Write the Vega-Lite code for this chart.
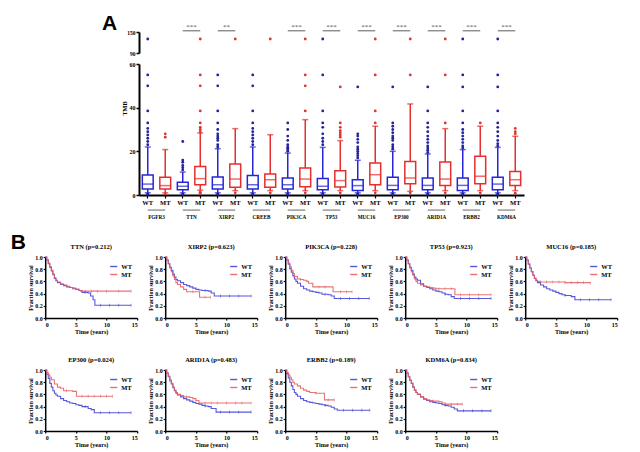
{
  "$schema": "https://vega.github.io/schema/vega-lite/v6.json",
  "background": "white",
  "padding": {"left": 10, "top": 12, "right": 5, "bottom": 2},
  "config": {
    "view": {"stroke": null},
    "font": "Liberation Serif",
    "axis": {"domainColor": "#000", "domainWidth": 1.5, "tickColor": "#000", "tickWidth": 1.2, "tickSize": 2, "labelFont": "Liberation Serif", "labelFontWeight": "bold", "labelFontSize": 6, "labelColor": "#000", "labelPadding": 1, "titleFont": "Liberation Serif", "titleFontWeight": "bold", "titleFontSize": 6.2, "titleColor": "#000", "titlePadding": 1, "grid": false},
    "title": {"font": "Liberation Serif", "fontSize": 6.5, "fontWeight": "bold", "color": "#000", "offset": 4},
    "legend": {"orient": "top-right", "offset": 5, "padding": 0, "labelFont": "Liberation Serif", "labelFontWeight": "bold", "labelFontSize": 6.5, "labelColor": "#000", "symbolType": "stroke", "symbolSize": 50, "symbolStrokeWidth": 1.4, "rowPadding": 0, "labelOffset": 3}
  },
  "datasets": {
    "genes": [
      {"gene": "FGFR3", "wt": "FGFR3 WT", "mt": "FGFR3 MT", "stars": ""},
      {"gene": "TTN", "wt": "TTN WT", "mt": "TTN MT", "stars": "***"},
      {"gene": "XIRP2", "wt": "XIRP2 WT", "mt": "XIRP2 MT", "stars": "**"},
      {"gene": "CREEB", "wt": "CREEB WT", "mt": "CREEB MT", "stars": ""},
      {"gene": "PIK3CA", "wt": "PIK3CA WT", "mt": "PIK3CA MT", "stars": "***"},
      {"gene": "TP53", "wt": "TP53 WT", "mt": "TP53 MT", "stars": "***"},
      {"gene": "MUC16", "wt": "MUC16 WT", "mt": "MUC16 MT", "stars": "***"},
      {"gene": "EP300", "wt": "EP300 WT", "mt": "EP300 MT", "stars": "***"},
      {"gene": "ARID1A", "wt": "ARID1A WT", "mt": "ARID1A MT", "stars": "***"},
      {"gene": "ERBB2", "wt": "ERBB2 WT", "mt": "ERBB2 MT", "stars": "***"},
      {"gene": "KDM6A", "wt": "KDM6A WT", "mt": "KDM6A MT", "stars": "***"}
    ],
    "boxes": [
      {"gene": "FGFR3", "grp": "WT", "box": "FGFR3 WT", "lo": 1, "q1": 2.7, "med": 5, "q3": 9.2, "hi": 22},
      {"gene": "FGFR3", "grp": "MT", "box": "FGFR3 MT", "lo": 1, "q1": 2.7, "med": 4.3, "q3": 8.1, "hi": 20.8},
      {"gene": "TTN", "grp": "WT", "box": "TTN WT", "lo": 1, "q1": 2.4, "med": 4, "q3": 5.8, "hi": 10.5},
      {"gene": "TTN", "grp": "MT", "box": "TTN MT", "lo": 2.2, "q1": 4.7, "med": 7.5, "q3": 13.1, "hi": 28.4},
      {"gene": "XIRP2", "grp": "WT", "box": "XIRP2 WT", "lo": 1, "q1": 2.7, "med": 4.7, "q3": 8.2, "hi": 21.2},
      {"gene": "XIRP2", "grp": "MT", "box": "XIRP2 MT", "lo": 2, "q1": 3.5, "med": 7.3, "q3": 14.2, "hi": 30.4},
      {"gene": "CREEB", "grp": "WT", "box": "CREEB WT", "lo": 1, "q1": 2.7, "med": 4.7, "q3": 8.9, "hi": 22},
      {"gene": "CREEB", "grp": "MT", "box": "CREEB MT", "lo": 2, "q1": 3.5, "med": 7, "q3": 9.6, "hi": 27.6},
      {"gene": "PIK3CA", "grp": "WT", "box": "PIK3CA WT", "lo": 1, "q1": 2.7, "med": 4.7, "q3": 7.8, "hi": 19.2},
      {"gene": "PIK3CA", "grp": "MT", "box": "PIK3CA MT", "lo": 2, "q1": 3.8, "med": 7.3, "q3": 12.4, "hi": 34.5},
      {"gene": "TP53", "grp": "WT", "box": "TP53 WT", "lo": 1, "q1": 2.4, "med": 4, "q3": 7.6, "hi": 21.8},
      {"gene": "TP53", "grp": "MT", "box": "TP53 MT", "lo": 2, "q1": 3.7, "med": 6.6, "q3": 11.1, "hi": 24.9},
      {"gene": "MUC16", "grp": "WT", "box": "MUC16 WT", "lo": 1, "q1": 2.1, "med": 4.3, "q3": 7, "hi": 15.9},
      {"gene": "MUC16", "grp": "MT", "box": "MUC16 MT", "lo": 2, "q1": 4.7, "med": 9.3, "q3": 14.7, "hi": 31.5},
      {"gene": "EP300", "grp": "WT", "box": "EP300 WT", "lo": 1, "q1": 2.4, "med": 4.4, "q3": 8.1, "hi": 20},
      {"gene": "EP300", "grp": "MT", "box": "EP300 MT", "lo": 1.7, "q1": 5.2, "med": 7.8, "q3": 15.4, "hi": 41.7},
      {"gene": "ARID1A", "grp": "WT", "box": "ARID1A WT", "lo": 1, "q1": 2.4, "med": 4.4, "q3": 7.8, "hi": 18.8},
      {"gene": "ARID1A", "grp": "MT", "box": "ARID1A MT", "lo": 2, "q1": 4.3, "med": 7.3, "q3": 15.1, "hi": 30.4},
      {"gene": "ERBB2", "grp": "WT", "box": "ERBB2 WT", "lo": 1, "q1": 2.1, "med": 4.4, "q3": 7.8, "hi": 20.8},
      {"gene": "ERBB2", "grp": "MT", "box": "ERBB2 MT", "lo": 2, "q1": 5.2, "med": 8.6, "q3": 17.7, "hi": 31.5},
      {"gene": "KDM6A", "grp": "WT", "box": "KDM6A WT", "lo": 1, "q1": 2.4, "med": 5, "q3": 8.1, "hi": 21.8},
      {"gene": "KDM6A", "grp": "MT", "box": "KDM6A MT", "lo": 2, "q1": 4.3, "med": 7, "q3": 10.8, "hi": 26.9}
    ],
    "outliers": [
      {"box": "FGFR3 WT", "grp": "WT", "v": [0.2, 0.5, 23, 24.5, 26, 27.5, 29, 30.5, 33, 38.5, 50, 55, 130]},
      {"box": "FGFR3 MT", "grp": "MT", "v": [0.5, 26.5, 28]},
      {"box": "TTN WT", "grp": "WT", "v": [0.2, 0.5, 11.5, 12.5, 13.5, 15, 16, 24.5]},
      {"box": "TTN MT", "grp": "MT", "v": [0.8, 1.3, 29, 30, 31, 33, 38.5, 50, 55, 130]},
      {"box": "XIRP2 WT", "grp": "WT", "v": [0.2, 0.5, 22, 23, 25, 26, 27, 28, 30, 33, 38.5, 50, 55]},
      {"box": "XIRP2 MT", "grp": "MT", "v": [1, 130]},
      {"box": "CREEB WT", "grp": "WT", "v": [0.2, 0.5, 23, 24.5, 26, 27.5, 29, 30.5, 33, 38.5, 50, 55]},
      {"box": "CREEB MT", "grp": "MT", "v": [1, 130]},
      {"box": "PIK3CA WT", "grp": "WT", "v": [0.2, 0.5, 20, 20.7, 21.4, 22, 23, 25, 27, 30, 33]},
      {"box": "PIK3CA MT", "grp": "MT", "v": [1, 38.5, 50, 55, 130]},
      {"box": "TP53 WT", "grp": "WT", "v": [0.2, 0.5, 23, 24.5, 26, 28, 31, 33, 38.5, 55, 130]},
      {"box": "TP53 MT", "grp": "MT", "v": [1, 26.5, 27.5, 28.5, 29.5, 31, 33, 49.5]},
      {"box": "MUC16 WT", "grp": "WT", "v": [0.2, 0.5, 17, 18, 19, 20, 21, 22, 24, 25.5, 27, 28, 49.5]},
      {"box": "MUC16 MT", "grp": "MT", "v": [1, 33, 38.5, 55, 130]},
      {"box": "EP300 WT", "grp": "WT", "v": [0.2, 0.5, 21, 22, 23, 25, 26, 27, 28.5, 30, 31.5, 33, 49.5]},
      {"box": "EP300 MT", "grp": "MT", "v": [1, 55, 130]},
      {"box": "ARID1A WT", "grp": "WT", "v": [0.2, 0.5, 19.5, 20.5, 21.5, 22.5, 24, 25.5, 27, 29, 31, 33, 38.5, 49.5]},
      {"box": "ARID1A MT", "grp": "MT", "v": [1, 33, 55, 130]},
      {"box": "ERBB2 WT", "grp": "WT", "v": [0.2, 0.5, 21.5, 22.5, 24, 25.5, 27, 28.5, 30, 33, 38.5, 49.5, 55, 130]},
      {"box": "ERBB2 MT", "grp": "MT", "v": [1, 33]},
      {"box": "KDM6A WT", "grp": "WT", "v": [0.2, 0.5, 22.5, 23.5, 25, 27, 29, 31, 33, 38.5, 49.5, 55, 130]},
      {"box": "KDM6A MT", "grp": "MT", "v": [0.8, 28, 29, 30.5]}
    ],
    "km": [
      {"gene": "TTN", "grp": "WT", "t": [0,0.25,0.5,0.75,1,1.25,1.5,1.75,2,2.5,3,3.5,4,4.5,5,5.5,6,6.5,7,7.4,7.8,8.1,9,10.5,12,14], "s": [1,0.95,0.89,0.83,0.77,0.71,0.65,0.61,0.58,0.55,0.53,0.51,0.5,0.48,0.47,0.45,0.42,0.42,0.41,0.36,0.3,0.21,0.21,0.21,0.21,0.21], "c": [0,0,0,0,0,0,0,0,0,0,0,0,0,0,0,0,0,1,0,0,0,0,1,1,1,1]},
      {"gene": "TTN", "grp": "MT", "t": [0,0.25,0.5,0.75,1,1.25,1.5,1.75,2,2.5,3,3.5,4,4.5,5,5.5,5.8,6.5,7.5,8.5,10,12,14], "s": [1,0.96,0.9,0.84,0.78,0.72,0.66,0.62,0.59,0.56,0.54,0.52,0.5,0.49,0.47,0.45,0.44,0.44,0.44,0.44,0.44,0.44,0.44], "c": [0,0,0,0,0,0,0,0,0,0,0,0,0,0,0,0,0,1,1,1,1,1,1]},
      {"gene": "XIRP2", "grp": "WT", "t": [0,0.25,0.5,0.75,1,1.25,1.5,1.75,2,2.5,3,3.5,4,4.5,5,5.5,6,6.5,7,7.5,8,9,10.5,12,14], "s": [1,0.95,0.89,0.83,0.78,0.72,0.67,0.63,0.61,0.58,0.55,0.53,0.51,0.49,0.47,0.46,0.45,0.45,0.44,0.41,0.36,0.36,0.36,0.36,0.36], "c": [0,0,0,0,0,0,0,0,0,0,0,0,0,0,0,0,0,1,0,0,0,1,1,1,1]},
      {"gene": "XIRP2", "grp": "MT", "t": [0,0.25,0.5,0.75,1,1.25,1.5,1.75,2,2.5,3,3.5,4.5,5.6,6.5,7.4], "s": [1,0.95,0.89,0.82,0.76,0.69,0.63,0.58,0.55,0.51,0.47,0.43,0.43,0.34,0.34,0.34], "c": [0,0,0,0,0,0,0,0,0,0,0,0,1,0,1,1]},
      {"gene": "PIK3CA", "grp": "WT", "t": [0,0.25,0.5,0.75,1,1.25,1.5,1.75,2,2.5,3,3.5,4,4.5,5,5.5,6,6.5,7,7.5,8,9,10.5,12,13.7], "s": [1,0.95,0.88,0.81,0.75,0.69,0.64,0.6,0.57,0.52,0.48,0.46,0.44,0.43,0.42,0.41,0.39,0.39,0.38,0.36,0.32,0.32,0.32,0.32,0.32], "c": [0,0,0,0,0,0,0,0,0,0,0,0,0,0,0,0,0,1,0,0,0,1,1,1,1]},
      {"gene": "PIK3CA", "grp": "MT", "t": [0,0.25,0.5,0.75,1,1.25,1.5,2,2.5,3,3.5,3.8,4.5,5.5,6.5,7.8,9,10,10.9], "s": [1,0.96,0.9,0.84,0.78,0.73,0.68,0.64,0.63,0.62,0.6,0.57,0.51,0.51,0.51,0.43,0.43,0.43,0.43], "c": [0,0,0,0,0,0,0,0,1,0,0,0,0,1,1,0,1,1,1]},
      {"gene": "TP53", "grp": "WT", "t": [0,0.25,0.5,0.75,1,1.25,1.5,1.75,2,2.5,3,3.5,4,4.5,5,5.5,6,6.5,7,7.5,8,9,10.5,12,14], "s": [1,0.95,0.89,0.83,0.78,0.72,0.67,0.64,0.62,0.56,0.52,0.5,0.48,0.46,0.44,0.43,0.41,0.39,0.38,0.35,0.32,0.32,0.32,0.32,0.32], "c": [0,0,0,0,0,0,0,0,0,0,0,0,0,0,0,0,0,1,0,0,0,1,1,1,1]},
      {"gene": "TP53", "grp": "MT", "t": [0,0.25,0.5,0.75,1,1.25,1.5,1.75,2,2.5,3,3.5,4,4.5,5,5.5,6.5,7.5,8.1,9,10.5,12,14], "s": [1,0.95,0.89,0.82,0.76,0.7,0.64,0.6,0.57,0.54,0.52,0.51,0.5,0.49,0.48,0.48,0.48,0.48,0.38,0.38,0.38,0.38,0.38], "c": [0,0,0,0,0,0,0,0,0,0,0,0,0,0,0,1,1,1,0,1,1,1,1]},
      {"gene": "MUC16", "grp": "WT", "t": [0,0.25,0.5,0.75,1,1.25,1.5,1.75,2,2.5,3,3.5,4,4.5,5,5.5,6,6.5,7,7.5,8.1,9,10.5,12,14], "s": [1,0.95,0.88,0.82,0.76,0.7,0.65,0.61,0.58,0.54,0.51,0.48,0.46,0.44,0.42,0.4,0.38,0.37,0.37,0.35,0.3,0.3,0.3,0.3,0.3], "c": [0,0,0,0,0,0,0,0,0,0,0,0,0,0,0,0,0,1,0,0,0,1,1,1,1]},
      {"gene": "MUC16", "grp": "MT", "t": [0,0.25,0.5,0.75,1,1.25,1.5,1.75,2,2.5,3.5,4.5,5.5,6.5,7.5,8.5,9.5,10.6], "s": [1,0.95,0.89,0.82,0.76,0.7,0.65,0.62,0.6,0.59,0.59,0.59,0.59,0.58,0.58,0.58,0.58,0.57], "c": [0,0,0,0,0,0,0,0,0,0,1,1,1,1,1,1,1,1]},
      {"gene": "EP300", "grp": "WT", "t": [0,0.25,0.5,0.75,1,1.25,1.5,1.75,2,2.5,3,3.5,4,4.5,5,5.5,6,6.5,7,7.5,8,9,10.5,12,14], "s": [1,0.93,0.86,0.78,0.72,0.66,0.62,0.59,0.57,0.53,0.5,0.48,0.46,0.45,0.43,0.42,0.4,0.4,0.37,0.35,0.3,0.3,0.3,0.3,0.3], "c": [0,0,0,0,0,0,0,0,0,0,0,0,0,0,0,0,0,1,0,0,0,1,1,1,1]},
      {"gene": "EP300", "grp": "MT", "t": [0,0.25,0.5,0.75,1,1.5,2,2.5,3,3.5,4.5,5.1,6,7,8,9,10,11], "s": [1,0.96,0.92,0.88,0.84,0.77,0.72,0.7,0.66,0.66,0.65,0.57,0.57,0.57,0.57,0.57,0.57,0.57], "c": [0,0,0,0,0,0,0,0,0,1,0,0,1,1,1,1,1,1]},
      {"gene": "ARID1A", "grp": "WT", "t": [0,0.25,0.5,0.75,1,1.25,1.5,1.75,2,2.5,3,3.5,4,4.5,5,5.5,6,6.5,7,7.5,8.3,9,10.5,12,14], "s": [1,0.95,0.89,0.82,0.77,0.71,0.66,0.62,0.59,0.56,0.53,0.51,0.49,0.47,0.45,0.44,0.42,0.41,0.4,0.37,0.31,0.31,0.31,0.31,0.31], "c": [0,0,0,0,0,0,0,0,0,0,0,0,0,0,0,0,0,1,0,0,0,1,1,1,1]},
      {"gene": "ARID1A", "grp": "MT", "t": [0,0.25,0.5,0.75,1,1.25,1.5,1.75,2,2.5,3,3.5,4,4.5,5,5.5,6.5,7.5,8.5,10,11.5,12.5,14], "s": [1,0.95,0.9,0.84,0.78,0.72,0.67,0.63,0.6,0.58,0.56,0.56,0.55,0.53,0.5,0.46,0.46,0.46,0.46,0.46,0.46,0.46,0.46], "c": [0,0,0,0,0,0,0,0,0,0,0,1,0,0,0,0,1,1,1,1,1,1,1]},
      {"gene": "ERBB2", "grp": "WT", "t": [0,0.25,0.5,0.75,1,1.25,1.5,1.75,2,2.5,3,3.5,4,4.5,5,5.5,6,6.5,7,7.5,8,8.5,9.5,11,12.5,13.8], "s": [1,0.94,0.87,0.8,0.74,0.68,0.63,0.6,0.57,0.53,0.5,0.48,0.47,0.46,0.45,0.44,0.43,0.42,0.41,0.39,0.36,0.34,0.34,0.34,0.34,0.34], "c": [0,0,0,0,0,0,0,0,0,0,0,0,0,0,0,0,0,1,0,0,0,0,1,1,1,1]},
      {"gene": "ERBB2", "grp": "MT", "t": [0,0.25,0.5,0.75,1,1.25,1.5,2,2.5,3,3.5,4,5,6.4,7,8], "s": [1,0.96,0.92,0.88,0.84,0.8,0.77,0.74,0.7,0.67,0.65,0.63,0.62,0.51,0.51,0.51], "c": [0,0,0,0,0,0,0,0,0,0,0,0,1,0,1,1]},
      {"gene": "KDM6A", "grp": "WT", "t": [0,0.25,0.5,0.75,1,1.25,1.5,1.75,2,2.5,3,3.5,4,4.5,5,5.5,6,6.5,7,7.5,8,8.5,9.5,11,12.5,14], "s": [1,0.95,0.89,0.83,0.78,0.72,0.67,0.63,0.6,0.56,0.52,0.5,0.48,0.47,0.46,0.45,0.43,0.42,0.41,0.39,0.36,0.33,0.33,0.33,0.33,0.33], "c": [0,0,0,0,0,0,0,0,0,0,0,0,0,0,0,0,0,1,0,0,0,0,1,1,1,1]},
      {"gene": "KDM6A", "grp": "MT", "t": [0,0.25,0.5,0.75,1,1.25,1.5,1.75,2,2.5,3,3.5,4,4.5,5,5.5,6,6.5,7.5,8.5,9.3], "s": [1,0.95,0.89,0.83,0.78,0.72,0.67,0.63,0.6,0.56,0.53,0.51,0.5,0.49,0.49,0.48,0.46,0.44,0.44,0.44,0.44], "c": [0,0,0,0,0,0,0,0,0,0,0,0,0,1,0,0,0,0,1,1,1]}
    ]
  },
  "center": true,
  "spacing": 11,
  "resolve": {"scale": {"color": "independent", "stroke": "independent", "fill": "independent"}},
  "vconcat": [
    {
      "title": {"text": "A", "anchor": "start", "font": "Liberation Sans", "fontSize": 21, "fontWeight": "bold", "baseline": "alphabetic", "dx": -19, "dy": 21, "offset": -7},
      "bounds": "flush",
      "spacing": 11,
      "vconcat": [
        {
          "width": 385, "height": 21,
          "layer": [
            {
              "data": {"name": "outliers"},
              "transform": [{"flatten": ["v"]}, {"filter": "datum.v > 60"}],
              "mark": {"type": "point", "filled": true, "size": 8, "opacity": 1},
              "encoding": {
                "x": {"field": "box", "type": "nominal", "scale": {"domain": ["FGFR3 WT","FGFR3 MT","TTN WT","TTN MT","XIRP2 WT","XIRP2 MT","CREEB WT","CREEB MT","PIK3CA WT","PIK3CA MT","TP53 WT","TP53 MT","MUC16 WT","MUC16 MT","EP300 WT","EP300 MT","ARID1A WT","ARID1A MT","ERBB2 WT","ERBB2 MT","KDM6A WT","KDM6A MT"], "paddingInner": 0, "paddingOuter": 0}, "axis": null},
                "y": {"field": "v", "type": "quantitative", "scale": {"domain": [90, 150], "nice": false, "zero": false}, "axis": {"values": [90, 120, 150], "title": null, "domainWidth": 2, "tickSize": 3, "tickWidth": 1.5, "labelFontSize": 5.5, "labelOverlap": false, "labelFlush": false}},
                "color": {"field": "grp", "type": "nominal", "scale": {"domain": ["WT", "MT"], "range": ["#23239e", "#dd3535"]}, "legend": null}
              }
            },
            {
              "data": {"name": "genes"},
              "transform": [{"filter": "datum.stars != ''"}],
              "mark": {"type": "rule", "color": "#777", "strokeWidth": 1.2},
              "encoding": {
                "x": {"field": "wt", "type": "nominal"},
                "x2": {"field": "mt"},
                "y": {"datum": 153.5}
              }
            },
            {
              "data": {"name": "genes"},
              "transform": [{"filter": "datum.stars != ''"}],
              "mark": {"type": "text", "fontSize": 7, "color": "#555", "baseline": "middle", "font": "Liberation Serif"},
              "encoding": {
                "x": {"field": "wt", "type": "nominal", "bandPosition": 1},
                "y": {"datum": 165},
                "text": {"field": "stars"}
              }
            }
          ]
        },
        {
          "width": 385, "height": 131,
          "encoding": {
            "x": {"field": "box", "type": "nominal", "scale": {"domain": ["FGFR3 WT","FGFR3 MT","TTN WT","TTN MT","XIRP2 WT","XIRP2 MT","CREEB WT","CREEB MT","PIK3CA WT","PIK3CA MT","TP53 WT","TP53 MT","MUC16 WT","MUC16 MT","EP300 WT","EP300 MT","ARID1A WT","ARID1A MT","ERBB2 WT","ERBB2 MT","KDM6A WT","KDM6A MT"], "paddingInner": 0, "paddingOuter": 0}, "axis": {"title": null, "labelExpr": "split(datum.label, ' ')[1]", "labelAngle": 0, "labelFontSize": 6.5, "domainWidth": 2, "tickSize": 3, "labelPadding": 1}}
          },
          "layer": [
            {
              "data": {"name": "boxes"},
              "mark": {"type": "rule", "strokeWidth": 1.5},
              "encoding": {
                "y": {"field": "lo", "type": "quantitative", "scale": {"domain": [0, 60], "nice": false, "zero": false}, "axis": {"values": [0, 20, 40, 60], "title": "TMB", "titleY": 44, "titlePadding": 2, "domainWidth": 2, "tickSize": 3, "tickWidth": 1.5, "labelFontSize": 6}},
                "y2": {"field": "hi"},
                "stroke": {"field": "grp", "type": "nominal", "scale": {"domain": ["WT", "MT"], "range": ["#2626d6", "#e62e2e"]}, "legend": null}
              }
            },
            {
              "data": {"name": "boxes"},
              "mark": {"type": "bar", "fill": "white", "strokeWidth": 1.5, "width": {"band": 0.62}},
              "encoding": {
                "y": {"field": "q1", "type": "quantitative", "scale": {"domain": [0, 60], "nice": false, "zero": false}},
                "y2": {"field": "q3"},
                "stroke": {"field": "grp", "type": "nominal", "scale": {"domain": ["WT", "MT"], "range": ["#2626d6", "#e62e2e"]}, "legend": null}
              }
            },
            {
              "data": {"name": "boxes"},
              "mark": {"type": "tick", "thickness": 1.5, "size": 11},
              "encoding": {
                "y": {"field": "med", "type": "quantitative", "scale": {"domain": [0, 60], "nice": false, "zero": false}},
                "fill": {"field": "grp", "type": "nominal", "scale": {"domain": ["WT", "MT"], "range": ["#2626d6", "#e62e2e"]}, "legend": null}
              }
            },
            {
              "data": {"name": "boxes"},
              "mark": {"type": "tick", "thickness": 1.5, "size": 6},
              "encoding": {
                "y": {"field": "lo", "type": "quantitative", "scale": {"domain": [0, 60], "nice": false, "zero": false}},
                "fill": {"field": "grp", "type": "nominal", "scale": {"domain": ["WT", "MT"], "range": ["#2626d6", "#e62e2e"]}, "legend": null}
              }
            },
            {
              "data": {"name": "boxes"},
              "mark": {"type": "tick", "thickness": 1.5, "size": 6},
              "encoding": {
                "y": {"field": "hi", "type": "quantitative", "scale": {"domain": [0, 60], "nice": false, "zero": false}},
                "fill": {"field": "grp", "type": "nominal", "scale": {"domain": ["WT", "MT"], "range": ["#2626d6", "#e62e2e"]}, "legend": null}
              }
            },
            {
              "data": {"name": "outliers"},
              "transform": [{"flatten": ["v"]}, {"filter": "datum.v <= 60"}],
              "mark": {"type": "point", "filled": true, "size": 8, "opacity": 1},
              "encoding": {
                "y": {"field": "v", "type": "quantitative", "scale": {"domain": [0, 60], "nice": false, "zero": false}},
                "color": {"field": "grp", "type": "nominal", "scale": {"domain": ["WT", "MT"], "range": ["#23239e", "#dd3535"]}, "legend": null}
              }
            },
            {
              "data": {"name": "genes"},
              "mark": {"type": "rule", "color": "#666", "strokeWidth": 1},
              "encoding": {
                "x": {"field": "wt", "type": "nominal"},
                "x2": {"field": "mt"},
                "y": {"datum": -6.9}
              }
            },
            {
              "data": {"name": "genes"},
              "mark": {"type": "text", "fontSize": 5.2, "fontWeight": "bold", "color": "#000", "baseline": "middle", "font": "Liberation Serif"},
              "encoding": {
                "x": {"field": "wt", "type": "nominal", "bandPosition": 1},
                "y": {"datum": -9.9},
                "text": {"field": "gene"}
              }
            }
          ]
        }
      ]
    },
    {
      "title": {"text": "B", "anchor": "start", "font": "Liberation Sans", "fontSize": 21, "fontWeight": "bold", "baseline": "alphabetic", "dx": -17, "dy": 17, "offset": -9},
      "spacing": 21,
      "resolve": {"scale": {"color": "independent"}},
      "vconcat": [
        {
          "spacing": 9,
          "resolve": {"scale": {"color": "independent"}},
          "hconcat": [
            {"title": "TTN (p=0.212)", "width": 92, "height": 61, "data": {"name": "km"}, "transform": [{"filter": "datum.gene == 'TTN'"}, {"flatten": ["t", "s", "c"]}],
             "encoding": {"x": {"field": "t", "type": "quantitative", "scale": {"domain": [0, 15], "nice": false}, "axis": {"values": [0, 5, 10, 15], "title": "Time (years)"}}, "y": {"field": "s", "type": "quantitative", "scale": {"domain": [0, 1], "nice": false}, "axis": {"values": [0, 0.2, 0.4, 0.6, 0.8, 1], "format": ".1f", "title": "Fraction survival"}}, "color": {"field": "grp", "type": "nominal", "scale": {"domain": ["WT", "MT"], "range": ["#3b3bd4", "#e65a5e"]}, "legend": {"title": null, "symbolType": "stroke"}}},
             "layer": [{"mark": {"type": "line", "interpolate": "step-after", "strokeWidth": 1.1, "opacity": 0.85}}, {"transform": [{"filter": "datum.c == 1"}], "mark": {"type": "tick", "orient": "vertical", "size": 3, "thickness": 0.7}}]},
            {"title": "XIRP2 (p=0.623)", "width": 92, "height": 61, "data": {"name": "km"}, "transform": [{"filter": "datum.gene == 'XIRP2'"}, {"flatten": ["t", "s", "c"]}],
             "encoding": {"x": {"field": "t", "type": "quantitative", "scale": {"domain": [0, 15], "nice": false}, "axis": {"values": [0, 5, 10, 15], "title": "Time (years)"}}, "y": {"field": "s", "type": "quantitative", "scale": {"domain": [0, 1], "nice": false}, "axis": {"values": [0, 0.2, 0.4, 0.6, 0.8, 1], "format": ".1f", "title": "Fraction survival"}}, "color": {"field": "grp", "type": "nominal", "scale": {"domain": ["WT", "MT"], "range": ["#3b3bd4", "#e65a5e"]}, "legend": {"title": null, "symbolType": "stroke"}}},
             "layer": [{"mark": {"type": "line", "interpolate": "step-after", "strokeWidth": 1.1, "opacity": 0.85}}, {"transform": [{"filter": "datum.c == 1"}], "mark": {"type": "tick", "orient": "vertical", "size": 3, "thickness": 0.7}}]},
            {"title": "PIK3CA (p=0.228)", "width": 92, "height": 61, "data": {"name": "km"}, "transform": [{"filter": "datum.gene == 'PIK3CA'"}, {"flatten": ["t", "s", "c"]}],
             "encoding": {"x": {"field": "t", "type": "quantitative", "scale": {"domain": [0, 15], "nice": false}, "axis": {"values": [0, 5, 10, 15], "title": "Time (years)"}}, "y": {"field": "s", "type": "quantitative", "scale": {"domain": [0, 1], "nice": false}, "axis": {"values": [0, 0.2, 0.4, 0.6, 0.8, 1], "format": ".1f", "title": "Fraction survival"}}, "color": {"field": "grp", "type": "nominal", "scale": {"domain": ["WT", "MT"], "range": ["#3b3bd4", "#e65a5e"]}, "legend": {"title": null, "symbolType": "stroke"}}},
             "layer": [{"mark": {"type": "line", "interpolate": "step-after", "strokeWidth": 1.1, "opacity": 0.85}}, {"transform": [{"filter": "datum.c == 1"}], "mark": {"type": "tick", "orient": "vertical", "size": 3, "thickness": 0.7}}]},
            {"title": "TP53 (p=0.923)", "width": 92, "height": 61, "data": {"name": "km"}, "transform": [{"filter": "datum.gene == 'TP53'"}, {"flatten": ["t", "s", "c"]}],
             "encoding": {"x": {"field": "t", "type": "quantitative", "scale": {"domain": [0, 15], "nice": false}, "axis": {"values": [0, 5, 10, 15], "title": "Time (years)"}}, "y": {"field": "s", "type": "quantitative", "scale": {"domain": [0, 1], "nice": false}, "axis": {"values": [0, 0.2, 0.4, 0.6, 0.8, 1], "format": ".1f", "title": "Fraction survival"}}, "color": {"field": "grp", "type": "nominal", "scale": {"domain": ["WT", "MT"], "range": ["#3b3bd4", "#e65a5e"]}, "legend": {"title": null, "symbolType": "stroke"}}},
             "layer": [{"mark": {"type": "line", "interpolate": "step-after", "strokeWidth": 1.1, "opacity": 0.85}}, {"transform": [{"filter": "datum.c == 1"}], "mark": {"type": "tick", "orient": "vertical", "size": 3, "thickness": 0.7}}]},
            {"title": "MUC16 (p=0.185)", "width": 92, "height": 61, "data": {"name": "km"}, "transform": [{"filter": "datum.gene == 'MUC16'"}, {"flatten": ["t", "s", "c"]}],
             "encoding": {"x": {"field": "t", "type": "quantitative", "scale": {"domain": [0, 15], "nice": false}, "axis": {"values": [0, 5, 10, 15], "title": "Time (years)"}}, "y": {"field": "s", "type": "quantitative", "scale": {"domain": [0, 1], "nice": false}, "axis": {"values": [0, 0.2, 0.4, 0.6, 0.8, 1], "format": ".1f", "title": "Fraction survival"}}, "color": {"field": "grp", "type": "nominal", "scale": {"domain": ["WT", "MT"], "range": ["#3b3bd4", "#e65a5e"]}, "legend": {"title": null, "symbolType": "stroke"}}},
             "layer": [{"mark": {"type": "line", "interpolate": "step-after", "strokeWidth": 1.1, "opacity": 0.85}}, {"transform": [{"filter": "datum.c == 1"}], "mark": {"type": "tick", "orient": "vertical", "size": 3, "thickness": 0.7}}]}
          ]
        },
        {
          "spacing": 9,
          "resolve": {"scale": {"color": "independent"}},
          "hconcat": [
            {"title": "EP300 (p=0.024)", "width": 92, "height": 61, "data": {"name": "km"}, "transform": [{"filter": "datum.gene == 'EP300'"}, {"flatten": ["t", "s", "c"]}],
             "encoding": {"x": {"field": "t", "type": "quantitative", "scale": {"domain": [0, 15], "nice": false}, "axis": {"values": [0, 5, 10, 15], "title": "Time (years)"}}, "y": {"field": "s", "type": "quantitative", "scale": {"domain": [0, 1], "nice": false}, "axis": {"values": [0, 0.2, 0.4, 0.6, 0.8, 1], "format": ".1f", "title": "Fraction survival"}}, "color": {"field": "grp", "type": "nominal", "scale": {"domain": ["WT", "MT"], "range": ["#3b3bd4", "#e65a5e"]}, "legend": {"title": null, "symbolType": "stroke"}}},
             "layer": [{"mark": {"type": "line", "interpolate": "step-after", "strokeWidth": 1.1, "opacity": 0.85}}, {"transform": [{"filter": "datum.c == 1"}], "mark": {"type": "tick", "orient": "vertical", "size": 3, "thickness": 0.7}}]},
            {"title": "ARID1A (p=0.483)", "width": 92, "height": 61, "data": {"name": "km"}, "transform": [{"filter": "datum.gene == 'ARID1A'"}, {"flatten": ["t", "s", "c"]}],
             "encoding": {"x": {"field": "t", "type": "quantitative", "scale": {"domain": [0, 15], "nice": false}, "axis": {"values": [0, 5, 10, 15], "title": "Time (years)"}}, "y": {"field": "s", "type": "quantitative", "scale": {"domain": [0, 1], "nice": false}, "axis": {"values": [0, 0.2, 0.4, 0.6, 0.8, 1], "format": ".1f", "title": "Fraction survival"}}, "color": {"field": "grp", "type": "nominal", "scale": {"domain": ["WT", "MT"], "range": ["#3b3bd4", "#e65a5e"]}, "legend": {"title": null, "symbolType": "stroke"}}},
             "layer": [{"mark": {"type": "line", "interpolate": "step-after", "strokeWidth": 1.1, "opacity": 0.85}}, {"transform": [{"filter": "datum.c == 1"}], "mark": {"type": "tick", "orient": "vertical", "size": 3, "thickness": 0.7}}]},
            {"title": "ERBB2 (p=0.189)", "width": 92, "height": 61, "data": {"name": "km"}, "transform": [{"filter": "datum.gene == 'ERBB2'"}, {"flatten": ["t", "s", "c"]}],
             "encoding": {"x": {"field": "t", "type": "quantitative", "scale": {"domain": [0, 15], "nice": false}, "axis": {"values": [0, 5, 10, 15], "title": "Time (years)"}}, "y": {"field": "s", "type": "quantitative", "scale": {"domain": [0, 1], "nice": false}, "axis": {"values": [0, 0.2, 0.4, 0.6, 0.8, 1], "format": ".1f", "title": "Fraction survival"}}, "color": {"field": "grp", "type": "nominal", "scale": {"domain": ["WT", "MT"], "range": ["#3b3bd4", "#e65a5e"]}, "legend": {"title": null, "symbolType": "stroke"}}},
             "layer": [{"mark": {"type": "line", "interpolate": "step-after", "strokeWidth": 1.1, "opacity": 0.85}}, {"transform": [{"filter": "datum.c == 1"}], "mark": {"type": "tick", "orient": "vertical", "size": 3, "thickness": 0.7}}]},
            {"title": "KDM6A (p=0.834)", "width": 92, "height": 61, "data": {"name": "km"}, "transform": [{"filter": "datum.gene == 'KDM6A'"}, {"flatten": ["t", "s", "c"]}],
             "encoding": {"x": {"field": "t", "type": "quantitative", "scale": {"domain": [0, 15], "nice": false}, "axis": {"values": [0, 5, 10, 15], "title": "Time (years)"}}, "y": {"field": "s", "type": "quantitative", "scale": {"domain": [0, 1], "nice": false}, "axis": {"values": [0, 0.2, 0.4, 0.6, 0.8, 1], "format": ".1f", "title": "Fraction survival"}}, "color": {"field": "grp", "type": "nominal", "scale": {"domain": ["WT", "MT"], "range": ["#3b3bd4", "#e65a5e"]}, "legend": {"title": null, "symbolType": "stroke"}}},
             "layer": [{"mark": {"type": "line", "interpolate": "step-after", "strokeWidth": 1.1, "opacity": 0.85}}, {"transform": [{"filter": "datum.c == 1"}], "mark": {"type": "tick", "orient": "vertical", "size": 3, "thickness": 0.7}}]}
          ]
        }
      ]
    }
  ]
}
